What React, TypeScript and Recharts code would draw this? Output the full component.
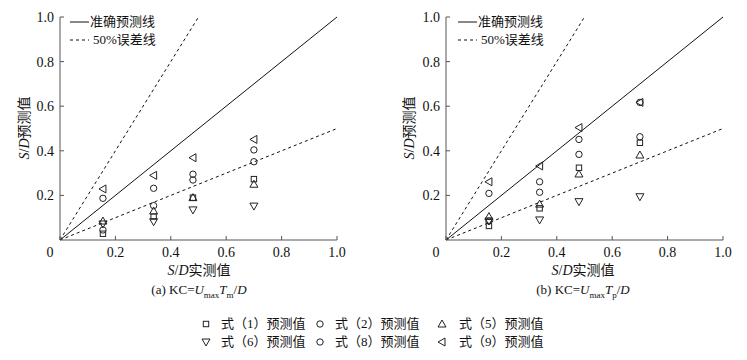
import React from 'react';
import { ScatterChart, Scatter, XAxis, YAxis, ReferenceLine } from 'recharts';

const xMeasured = [0.155, 0.338, 0.48, 0.7];

// (a) KC = Umax Tm / D
const aEq1 = [0.028, 0.105, 0.19, 0.273];
const aEq2 = [0.187, 0.232, 0.295, 0.404];
const aEq5 = [0.085, 0.13, 0.19, 0.25];
const aEq6 = [0.072, 0.082, 0.135, 0.152];
const aEq8 = [0.045, 0.154, 0.269, 0.351];
const aEq9 = [0.229, 0.29, 0.369, 0.451];

// (b) KC = Umax Tp / D
const bEq1 = [0.063, 0.142, 0.324, 0.436];
const bEq2 = [0.209, 0.261, 0.451, 0.463];
const bEq5 = [0.105, 0.161, 0.296, 0.381];
const bEq6 = [0.085, 0.09, 0.172, 0.194];
const bEq8 = [0.085, 0.214, 0.384, 0.617];
const bEq9 = [0.261, 0.332, 0.504, 0.617];

const axisTicks = [0, 0.2, 0.4, 0.6, 0.8, 1.0];
const yTicks = [0.2, 0.4, 0.6, 0.8, 1.0];

const lineAccurate = [{ x: 0, y: 0 }, { x: 1, y: 1 }];
const lineUpper = [{ x: 0, y: 0 }, { x: 0.5, y: 1 }];
const lineLower = [{ x: 0, y: 0 }, { x: 1, y: 0.5 }];

const legendLabels = ['式（1）预测值', '式（2）预测值', '式（5）预测值', '式（6）预测值', '式（8）预测值', '式（9）预测值'];
const legendAccurate = '准确预测线';
const legendError = '50%误差线';

const FONT = '"Liberation Serif", "Times New Roman", "Noto Sans CJK SC", serif';
const MK = '#222';

type ShapeKind = 'square' | 'circle' | 'up' | 'down' | 'circle2' | 'left';
const kinds: ShapeKind[] = ['square', 'circle', 'up', 'down', 'circle2', 'left'];

function Marker({ kind, cx, cy }: { kind: ShapeKind; cx: number; cy: number }) {
  const p = { fill: 'none', stroke: MK, strokeWidth: 1 };
  switch (kind) {
    case 'square':
      return <rect x={cx - 2.7} y={cy - 2.7} width={5.4} height={5.4} {...p} />;
    case 'circle':
      return <circle cx={cx} cy={cy} r={3.2} {...p} />;
    case 'circle2':
      return <circle cx={cx} cy={cy} r={3.2} {...p} />;
    case 'up':
      return <polygon points={`${cx},${cy - 4} ${cx - 4},${cy + 3} ${cx + 4},${cy + 3}`} {...p} />;
    case 'down':
      return <polygon points={`${cx - 4},${cy - 3} ${cx + 4},${cy - 3} ${cx},${cy + 4}`} {...p} />;
    case 'left':
      return <polygon points={`${cx - 4},${cy} ${cx + 3},${cy - 4} ${cx + 3},${cy + 4}`} {...p} />;
  }
  return null;
}

const makeShape = (kind: ShapeKind) => (props: any) => <Marker kind={kind} cx={props.cx} cy={props.cy} />;

const XTick = (props: any) => {
  const { x, y, payload } = props;
  const v = payload.value as number;
  return (
    <g>
      <line x1={x} y1={y} x2={x} y2={y - 4} stroke="#555" />
      <text x={v === 0 ? x - 10 : x} y={y + 17} textAnchor="middle" fontSize={14} fontFamily={FONT} fill="#111">
        {v === 0 ? '0' : v.toFixed(1)}
      </text>
    </g>
  );
};

const YTick = (props: any) => {
  const { x, y, payload } = props;
  const v = payload.value as number;
  return (
    <g>
      <line x1={x} y1={y} x2={x + 4} y2={y} stroke="#555" />
      <text x={x - 6} y={y + 5} textAnchor="end" fontSize={14} fontFamily={FONT} fill="#111">
        {v.toFixed(1)}
      </text>
    </g>
  );
};

function SubChart({ series, left }: { series: number[][]; left: number }) {
  return (
    <div style={{ position: 'absolute', left, top: 0 }}>
      <ScatterChart width={360} height={270} margin={{ top: 17, right: 23, bottom: 0, left: 0 }}>
        <XAxis
          type="number"
          dataKey="x"
          domain={[0, 1]}
          ticks={axisTicks}
          interval={0}
          tick={<XTick />}
          tickLine={false}
          tickSize={0}
          tickMargin={0}
          height={30}
          axisLine={{ stroke: '#555' }}
          allowDataOverflow
        />
        <YAxis
          type="number"
          dataKey="y"
          domain={[0, 1]}
          ticks={yTicks}
          interval={0}
          tick={<YTick />}
          tickLine={false}
          tickSize={0}
          tickMargin={0}
          width={60}
          axisLine={{ stroke: '#555' }}
          allowDataOverflow
        />
        <ReferenceLine segment={lineAccurate} stroke="#111" strokeWidth={1} ifOverflow="visible" />
        <ReferenceLine segment={lineUpper} stroke="#111" strokeWidth={1} strokeDasharray="3 3" ifOverflow="visible" />
        <ReferenceLine segment={lineLower} stroke="#111" strokeWidth={1} strokeDasharray="3 3" ifOverflow="visible" />
        {series.map((vals, i) => (
          <Scatter
            key={i}
            data={xMeasured.map((x, j) => ({ x, y: vals[j] }))}
            shape={makeShape(kinds[i])}
            isAnimationActive={false}
          />
        ))}
      </ScatterChart>
    </div>
  );
}

const textBase: React.CSSProperties = { position: 'absolute', fontFamily: FONT, color: '#111', whiteSpace: 'nowrap' };

function TopLegend({ left }: { left: number }) {
  return (
    <>
      <svg style={{ position: 'absolute', left, top: 14 }} width={20} height={30}>
        <line x1={0} y1={8} x2={19} y2={8} stroke="#111" />
        <line x1={0} y1={26} x2={19} y2={26} stroke="#111" strokeDasharray="3 3" />
      </svg>
      <div style={{ ...textBase, left: left + 20, top: 13, fontSize: 13, lineHeight: '18px' }}>{legendAccurate}</div>
      <div style={{ ...textBase, left: left + 23, top: 31, fontSize: 13, lineHeight: '18px' }}>{legendError}</div>
    </>
  );
}

function AxisTexts({ cx, yTitleX, tag, sub }: { cx: number; yTitleX: number; tag: string; sub: string }) {
  return (
    <>
      <div style={{ ...textBase, left: cx, top: 262, transform: 'translateX(-50%)', fontSize: 14, lineHeight: '17px' }}>
        <i>S</i>/<i>D</i>实测值
      </div>
      <div style={{ ...textBase, left: cx, top: 282, transform: 'translateX(-50%)', fontSize: 13, lineHeight: '16px' }}>
        ({tag}) KC=<i>U</i>
        <span style={{ fontSize: 9, position: 'relative', top: 4 }}>max</span>
        <i>T</i>
        <span style={{ fontSize: 9, position: 'relative', top: 4 }}>{sub}</span>/<i>D</i>
      </div>
      <div
        style={{
          ...textBase,
          left: yTitleX,
          top: 128,
          transform: 'translate(-50%, -50%) rotate(-90deg)',
          fontSize: 14,
          lineHeight: '17px',
        }}
      >
        <i>S</i>/<i>D</i>预测值
      </div>
    </>
  );
}

function BottomLegend() {
  const colX = [206, 320, 442];
  const rowY = [324, 342];
  return (
    <>
      <svg style={{ position: 'absolute', left: 0, top: 0 }} width={747} height={360}>
        {kinds.map((k, i) => (
          <Marker key={i} kind={k} cx={colX[i % 3]} cy={rowY[Math.floor(i / 3)]} />
        ))}
      </svg>
      {legendLabels.map((t, i) => (
        <div
          key={i}
          style={{
            ...textBase,
            left: colX[i % 3] + (i % 3 === 2 ? 17 : 15),
            top: rowY[Math.floor(i / 3)] - 9,
            fontSize: 13,
            lineHeight: '18px',
          }}
        >
          {t}
        </div>
      ))}
    </>
  );
}

export default function App() {
  return (
    <div style={{ position: 'absolute', left: 0, top: 0, width: 747, height: 360, background: '#fff', overflow: 'hidden' }}>
      <SubChart series={[aEq1, aEq2, aEq5, aEq6, aEq8, aEq9]} left={0} />
      <SubChart series={[bEq1, bEq2, bEq5, bEq6, bEq8, bEq9]} left={386} />
      <TopLegend left={70} />
      <TopLegend left={458} />
      <AxisTexts cx={199} yTitleX={24} tag="a" sub="m" />
      <AxisTexts cx={583} yTitleX={409} tag="b" sub="p" />
      <BottomLegend />
    </div>
  );
}
